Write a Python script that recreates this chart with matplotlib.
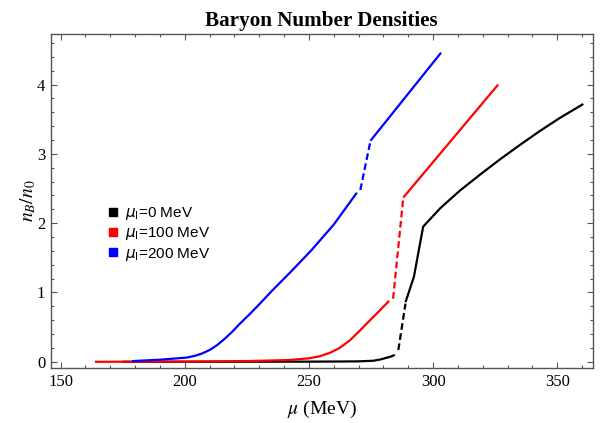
import numpy as np
import matplotlib
matplotlib.use('Agg')
import matplotlib.pyplot as plt
from matplotlib.lines import Line2D
from matplotlib.font_manager import FontProperties
from matplotlib.ticker import MultipleLocator

plt.rcParams['font.family'] = ['Liberation Serif', 'DejaVu Serif']
plt.rcParams['mathtext.fontset'] = 'stix'

# Datos (mu en MeV, n_B/n_0)
# mu_I = 0 MeV
black_lo_mu = [175, 200, 230, 250, 262.5, 270, 276, 279, 281, 283, 284.6]
black_lo_n = [0.0, 0.0, 0.001, 0.002, 0.004, 0.006, 0.015, 0.035, 0.055, 0.075, 0.10]
black_dash_mu = [286.0, 288.9]
black_dash_n = [0.17, 0.84]
black_hi_mu = [288.9, 292.3, 296.0, 303.0, 310.8, 318.9, 326.9, 335.0, 343.0, 351.1, 360.5]
black_hi_n = [0.86, 1.23, 1.95, 2.22, 2.47, 2.70, 2.92, 3.13, 3.33, 3.52, 3.72]

# mu_I = 100 MeV
red_lo_mu = [163.8, 200, 225, 242, 250, 254.4, 258.5, 262.4, 266.5, 270.5, 274.6, 278.5, 282.3]
red_lo_n = [0.0, 0.003, 0.01, 0.025, 0.05, 0.08, 0.13, 0.20, 0.31, 0.45, 0.60, 0.74, 0.88]
red_dash_mu = [283.9, 288.0]
red_dash_n = [0.91, 2.37]
red_hi_mu = [288.0, 326.2]
red_hi_n = [2.37, 4.0]

# mu_I = 200 MeV
blue_lo_mu = [178.8, 190, 200.7, 204, 207, 210, 213, 216, 219, 222.2, 226.2, 230, 235, 243, 251, 260, 269.3]
blue_lo_n = [0.01, 0.03, 0.06, 0.085, 0.12, 0.17, 0.24, 0.33, 0.43, 0.55, 0.69, 0.83, 1.02, 1.31, 1.61, 1.98, 2.44]
blue_dash_mu = [270.7, 274.8]
blue_dash_n = [2.48, 3.19]
blue_hi_mu = [274.8, 303.2]
blue_hi_n = [3.19, 4.46]

colores = ['black', '#ff0000', '#0000ff']
etiquetas = [r'$\mu_{\mathrm{l}}$=0 MeV', r'$\mu_{\mathrm{l}}$=100 MeV', r'$\mu_{\mathrm{l}}$=200 MeV']

fig = plt.figure(figsize=(6.06, 4.23), dpi=100)
ax = fig.add_axes([0.0837, 0.130, 0.8944, 0.7896])

lw = 1.6
guion = (0, (3, 1.6))
series = [
    (black_lo_mu, black_lo_n, black_dash_mu, black_dash_n, black_hi_mu, black_hi_n),
    (red_lo_mu, red_lo_n, red_dash_mu, red_dash_n, red_hi_mu, red_hi_n),
    (blue_lo_mu, blue_lo_n, blue_dash_mu, blue_dash_n, blue_hi_mu, blue_hi_n),
]
for (lo_x, lo_y, d_x, d_y, hi_x, hi_y), c in zip(series, colores):
    ax.plot(lo_x, lo_y, color=c, lw=lw, solid_capstyle='butt')
    ax.plot(d_x, d_y, color=c, lw=lw, linestyle=guion)
    ax.plot(hi_x, hi_y, color=c, lw=lw, solid_capstyle='butt')

ax.set_xlim(146, 364.3)
ax.set_ylim(-0.09, 4.73)
ax.xaxis.set_major_locator(MultipleLocator(50))
ax.xaxis.set_minor_locator(MultipleLocator(10))
ax.yaxis.set_major_locator(MultipleLocator(1))
ax.yaxis.set_minor_locator(MultipleLocator(0.2))

gris = '#555555'
for s in ax.spines.values():
    s.set_color(gris)
    s.set_linewidth(1.0)
ax.tick_params(which='both', direction='in', top=True, right=True, color=gris, labelsize=12)
ax.tick_params(which='major', length=4.5, width=0.8)
ax.tick_params(which='minor', length=2.5, width=0.8)
ax.tick_params(axis='x', pad=4)
ax.tick_params(axis='y', pad=4)

ax.set_title('Baryon Number Densities', fontsize=15.2, fontweight='bold', pad=6)
ax.set_xlabel(r'$\mu$ (MeV)', fontsize=14, labelpad=7)
ax.set_ylabel(r'$n_B/n_0$', fontsize=14, labelpad=-1)

handles = [Line2D([], [], marker='s', ls='', color=c, markersize=6) for c in colores]
prop = FontProperties(family='Liberation Sans', size=11, math_fontfamily='dejavusans')
ax.legend(handles, etiquetas, loc='center left', bbox_to_anchor=(0.104, 0.402),
          frameon=False, borderpad=0, borderaxespad=0, handlelength=0.8,
          handletextpad=0.4, labelspacing=0.22, prop=prop)

fig.savefig('out.png', dpi=100)
